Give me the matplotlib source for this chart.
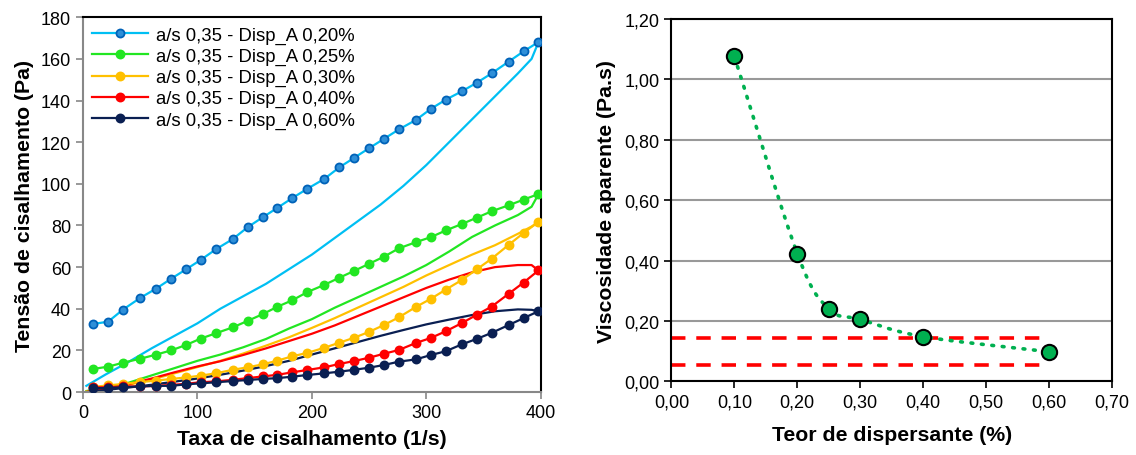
import numpy as np
import matplotlib
matplotlib.use("Agg")
import matplotlib.pyplot as plt
from matplotlib.ticker import FuncFormatter

plt.rcParams['font.family'] = ['Liberation Sans', 'DejaVu Sans']

# left chart: flow curves (up ramp with markers, down ramp plain line)
labels = ["a/s 0,35 - Disp_A 0,20%", "a/s 0,35 - Disp_A 0,25%", "a/s 0,35 - Disp_A 0,30%",
          "a/s 0,35 - Disp_A 0,40%", "a/s 0,35 - Disp_A 0,60%"]
x_up = [9, 22, 35, 50, 64, 77, 90, 103, 116, 131, 144, 157, 170, 183, 196,
        211, 224, 237, 250, 263, 276, 291, 304, 317, 331, 344, 357, 372, 385, 398]
up_020 = [32.7, 33.8, 39.6, 45.2, 49.7, 54.4, 58.9, 63.5, 68.5, 73.5, 79.2, 83.9, 88.5, 93.2, 97.6,
          102.4, 107.9, 112.5, 117.1, 121.6, 126.1, 130.7, 136.0, 140.4, 144.4, 148.5, 153.0, 158.7, 163.6, 168.1]
up_025 = [11.1, 12.2, 14.1, 16.0, 18.0, 20.0, 22.6, 25.7, 28.2, 31.1, 34.2, 37.4, 41.0, 44.1, 48.0,
          51.5, 54.9, 58.2, 61.6, 65.0, 69.0, 72.0, 74.4, 77.6, 80.7, 83.7, 86.8, 89.7, 92.4, 95.1]
up_030 = [2.5, 3.2, 3.9, 4.8, 5.5, 6.3, 7.0, 7.9, 9.0, 10.7, 11.9, 13.3, 15.1, 17.2, 18.8,
          21.3, 23.7, 26.1, 28.9, 32.2, 35.9, 40.9, 44.8, 49.2, 53.8, 58.9, 64.0, 70.7, 76.4, 81.7]
up_040 = [2.3, 2.3, 2.7, 2.7, 3.0, 3.4, 4.0, 4.7, 5.1, 5.9, 6.7, 7.5, 8.3, 9.5, 10.6,
          11.9, 13.5, 14.9, 16.5, 18.4, 20.2, 23.6, 26.0, 29.2, 33.1, 37.1, 41.0, 47.2, 52.6, 58.4]
up_060 = [1.8, 2.0, 2.3, 2.7, 3.0, 3.0, 3.7, 4.2, 4.7, 5.3, 5.8, 6.3, 6.7, 7.4, 8.2,
          9.0, 9.8, 10.7, 11.7, 13.0, 14.6, 15.7, 17.8, 19.6, 22.9, 25.5, 28.4, 32.2, 35.5, 38.8]

x_down = [398, 392, 380, 360, 340, 320, 300, 280, 260, 240, 220, 200, 180, 160, 140, 120, 100, 80, 60, 40, 20, 3]
down_020 = [168, 160, 153, 142, 131, 120, 109, 99, 90, 82, 74, 66, 59, 52, 46, 40, 33, 27, 21, 14.5, 8.5, 3]
down_025 = [95, 89, 85, 80, 74.5, 67.5, 61, 55.5, 50.5, 45.5, 40.5, 35, 30.5, 25.5, 21.5, 18, 15, 11.5, 8, 4.5, 2, 0.5]
down_030 = [81.7, 79.5, 76, 70.5, 66, 61, 56, 50.5, 45.5, 40.5, 35.5, 30.8, 26.3, 22.3, 18.5, 15, 12, 9, 6, 3.5, 1.5, 0.3]
down_040 = [58.4, 61, 61, 60, 57.5, 54, 50, 45.5, 41, 36.5, 32, 28, 24.5, 21, 17.8, 14.8, 12.3, 9.5, 6.5, 3.8, 1.5, 0]
down_060 = [38.8, 39.5, 39.7, 38.8, 37, 34.8, 32.5, 29.8, 27, 24, 21, 18, 15, 12.5, 10.3, 8.3, 6.5, 5, 3.5, 2.2, 1, 0]

line_colors = ["#00BFF3", "#22E622", "#FFC000", "#FF0000", "#0A1F52"]
mark_face = ["#2E8FD8", "#22E622", "#FFC000", "#FF0000", "#0A1F52"]
mark_edge = ["#0062B8", "#22E622", "#FFC000", "#FF0000", "#0A1F52"]

# right chart: apparent viscosity
teor = [0.10, 0.20, 0.25, 0.30, 0.40, 0.60]
visc = [1.076, 0.423, 0.240, 0.205, 0.148, 0.098]
limits = [0.142, 0.053]

fig = plt.figure(figsize=(11.36, 4.56), dpi=100)
ax1 = fig.add_axes([0.073, 0.138, 0.403, 0.822])
ax2 = fig.add_axes([0.591, 0.1616, 0.388, 0.7945])

ups = [up_020, up_025, up_030, up_040, up_060]
downs = [down_020, down_025, down_030, down_040, down_060]
for i in range(5):
    ax1.plot(x_down, downs[i], color=line_colors[i], lw=1.6, zorder=2)
    ax1.plot(x_up, ups[i], color=line_colors[i], lw=1.6, marker='o', ms=5.8,
             mfc=mark_face[i], mec=mark_edge[i], mew=1.3, label=labels[i], zorder=3)

ax1.set_xlim(0, 400)
ax1.set_ylim(0, 180)
ax1.set_xticks(range(0, 401, 100))
ax1.set_yticks(range(0, 181, 20))
ax1.tick_params(labelsize=13, direction='out', color='#888888', length=5, width=1.2)
ax1.set_xlabel("Taxa de cisalhamento (1/s)", fontsize=15.3, fontweight='bold', labelpad=6)
ax1.set_ylabel("Tensão de cisalhamento (Pa)", fontsize=15.3, fontweight='bold', labelpad=5)
for s in ['left', 'bottom']:
    ax1.spines[s].set_color('#888888')
    ax1.spines[s].set_linewidth(1.5)
for s in ['top', 'right']:
    ax1.spines[s].set_color('black')
    ax1.spines[s].set_linewidth(1.5)
ax1.legend(loc='upper left', frameon=False, fontsize=13.3, handlelength=3.0,
           borderaxespad=0.1, labelspacing=0.22, handletextpad=0.45)


# smooth dotted line through the points (Catmull-Rom, like Excel's smoothed line)
def smooth(xs, ys, n=30):
    px = [2 * xs[0] - xs[1]] + list(xs) + [2 * xs[-1] - xs[-2]]
    py = [2 * ys[0] - ys[1]] + list(ys) + [2 * ys[-1] - ys[-2]]
    ox, oy = [], []
    t = np.linspace(0, 1, n)
    for k in range(1, len(px) - 2):
        for arr, o in ((px, ox), (py, oy)):
            p0, p1, p2, p3 = arr[k - 1], arr[k], arr[k + 1], arr[k + 2]
            o.extend(0.5 * (2 * p1 + (-p0 + p2) * t + (2 * p0 - 5 * p1 + 4 * p2 - p3) * t ** 2
                            + (-p0 + 3 * p1 - 3 * p2 + p3) * t ** 3))
    return ox, oy


sx, sy = smooth(teor, visc)
ax2.plot(sx, sy, color='#00B050', lw=2.6, ls=(0, (0.5, 2.4)), dash_capstyle='round', zorder=3)
ax2.plot(teor, visc, ls='none', marker='o', ms=11, mfc='#00B050', mec='black', mew=1.5, zorder=4)
for lim in limits:
    ax2.plot([0, 0.587], [lim, lim], color='#FF0000', lw=2.6, ls=(0, (4, 3)), zorder=2)

ax2.set_xlim(0, 0.70)
ax2.set_ylim(0, 1.20)
ax2.set_xticks(np.arange(0, 0.701, 0.1))
ax2.set_yticks(np.arange(0, 1.201, 0.2))
fmt = FuncFormatter(lambda v, p: f"{v:.2f}".replace('.', ','))
ax2.xaxis.set_major_formatter(fmt)
ax2.yaxis.set_major_formatter(fmt)
ax2.yaxis.grid(True, color='#999999', lw=1.5)
ax2.set_axisbelow(True)
ax2.tick_params(labelsize=13, direction='out', color='black', length=5, width=1.2)
for s in ax2.spines.values():
    s.set_color('black')
    s.set_linewidth(1.5)
ax2.set_xlabel("Teor de dispersante (%)", fontsize=15.3, fontweight='bold', labelpad=11)
ax2.set_ylabel("Viscosidade aparente (Pa.s)", fontsize=15.3, fontweight='bold', labelpad=6)

fig.savefig("out.png", dpi=100)
